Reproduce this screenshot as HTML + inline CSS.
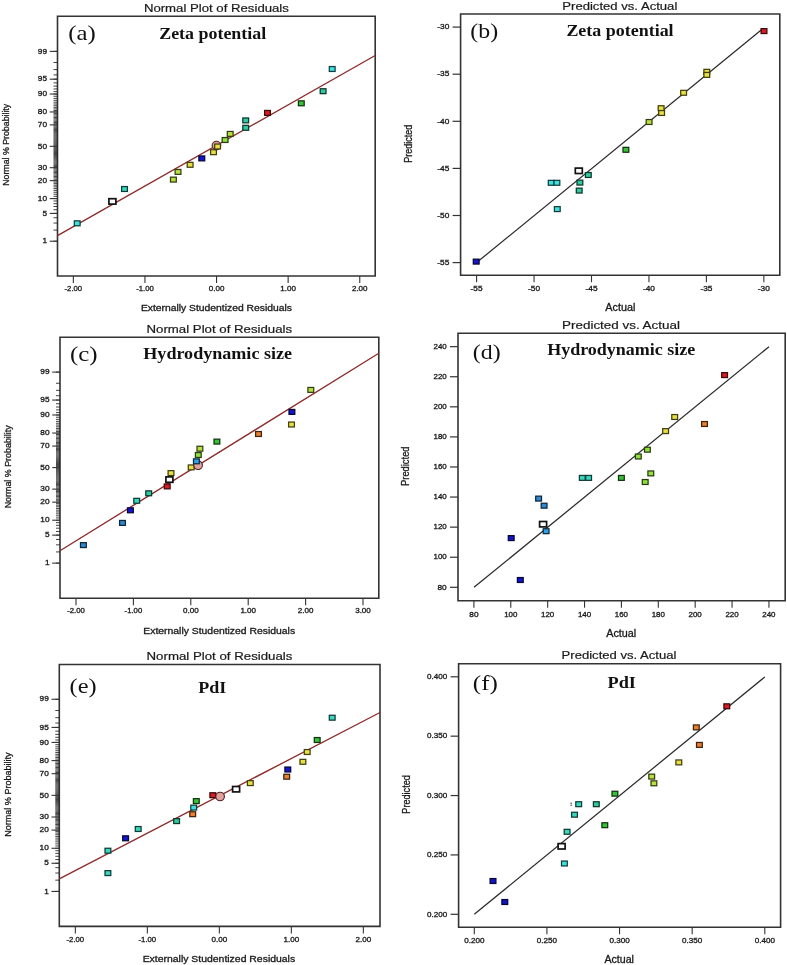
<!DOCTYPE html>
<html><head><meta charset="utf-8"><style>
html,body{margin:0;padding:0;background:#fff;}
body{width:787px;height:965px;overflow:hidden;font-family:"Liberation Sans",sans-serif;}
svg{display:block;will-change:transform;}
</style></head><body>
<svg width="787" height="965" viewBox="0 0 787 965">
<rect width="787" height="965" fill="#fff"/>
<text x="216.40" y="11.90" font-family="Liberation Sans" font-size="11" font-weight="normal" fill="#1a1a1a" text-anchor="middle" stroke="#1a1a1a" stroke-width="0.2" textLength="145" lengthAdjust="spacingAndGlyphs">Normal Plot of Residuals</text>
<path d="M57.50,16.30 H375.20 V276.00 H57.50 Z" fill="none" stroke="#333333" stroke-width="1.6"/>
<text x="216.40" y="311.30" font-family="Liberation Sans" font-size="9" font-weight="normal" fill="#1a1a1a" text-anchor="middle" stroke="#1a1a1a" stroke-width="0.3" textLength="151" lengthAdjust="spacingAndGlyphs">Externally Studentized Residuals</text>
<text x="9.50" y="144.80" font-family="Liberation Sans" font-size="9" font-weight="normal" fill="#1a1a1a" text-anchor="middle" stroke="#1a1a1a" stroke-width="0.3" textLength="82" lengthAdjust="spacingAndGlyphs" transform="rotate(-90 9.50 144.80)">Normal % Probability</text>
<text x="68.20" y="39.70" font-family="Liberation Serif" font-size="22" font-weight="normal" fill="#111" text-anchor="start" textLength="27.5" lengthAdjust="spacingAndGlyphs">(a)</text>
<text x="159.20" y="38.70" font-family="Liberation Serif" font-size="16" font-weight="bold" fill="#111" text-anchor="start" textLength="107" lengthAdjust="spacingAndGlyphs">Zeta potential</text>
<line x1="53.50" y1="241.21" x2="57.50" y2="241.21" stroke="#222" stroke-width="0.85"/>
<line x1="53.50" y1="230.09" x2="57.50" y2="230.09" stroke="#222" stroke-width="0.85"/>
<line x1="53.50" y1="223.04" x2="57.50" y2="223.04" stroke="#222" stroke-width="0.85"/>
<line x1="53.50" y1="217.73" x2="57.50" y2="217.73" stroke="#222" stroke-width="0.85"/>
<line x1="53.50" y1="213.41" x2="57.50" y2="213.41" stroke="#222" stroke-width="0.85"/>
<line x1="53.50" y1="209.73" x2="57.50" y2="209.73" stroke="#222" stroke-width="0.85"/>
<line x1="53.50" y1="206.51" x2="57.50" y2="206.51" stroke="#222" stroke-width="0.85"/>
<line x1="53.50" y1="203.63" x2="57.50" y2="203.63" stroke="#222" stroke-width="0.85"/>
<line x1="53.50" y1="201.00" x2="57.50" y2="201.00" stroke="#222" stroke-width="0.85"/>
<line x1="53.50" y1="198.59" x2="57.50" y2="198.59" stroke="#222" stroke-width="0.85"/>
<line x1="53.50" y1="196.34" x2="57.50" y2="196.34" stroke="#222" stroke-width="0.85"/>
<line x1="53.50" y1="194.24" x2="57.50" y2="194.24" stroke="#222" stroke-width="0.85"/>
<line x1="53.50" y1="192.26" x2="57.50" y2="192.26" stroke="#222" stroke-width="0.85"/>
<line x1="53.50" y1="190.38" x2="57.50" y2="190.38" stroke="#222" stroke-width="0.85"/>
<line x1="53.50" y1="188.59" x2="57.50" y2="188.59" stroke="#222" stroke-width="0.85"/>
<line x1="53.50" y1="186.87" x2="57.50" y2="186.87" stroke="#222" stroke-width="0.85"/>
<line x1="53.50" y1="185.23" x2="57.50" y2="185.23" stroke="#222" stroke-width="0.85"/>
<line x1="53.50" y1="183.65" x2="57.50" y2="183.65" stroke="#222" stroke-width="0.85"/>
<line x1="53.50" y1="182.12" x2="57.50" y2="182.12" stroke="#222" stroke-width="0.85"/>
<line x1="53.50" y1="180.64" x2="57.50" y2="180.64" stroke="#222" stroke-width="0.85"/>
<line x1="53.50" y1="179.20" x2="57.50" y2="179.20" stroke="#222" stroke-width="0.85"/>
<line x1="53.50" y1="177.81" x2="57.50" y2="177.81" stroke="#222" stroke-width="0.85"/>
<line x1="53.50" y1="176.44" x2="57.50" y2="176.44" stroke="#222" stroke-width="0.85"/>
<line x1="53.50" y1="175.12" x2="57.50" y2="175.12" stroke="#222" stroke-width="0.85"/>
<line x1="53.50" y1="173.82" x2="57.50" y2="173.82" stroke="#222" stroke-width="0.85"/>
<line x1="53.50" y1="172.55" x2="57.50" y2="172.55" stroke="#222" stroke-width="0.85"/>
<line x1="53.50" y1="171.30" x2="57.50" y2="171.30" stroke="#222" stroke-width="0.85"/>
<line x1="53.50" y1="170.08" x2="57.50" y2="170.08" stroke="#222" stroke-width="0.85"/>
<line x1="53.50" y1="168.88" x2="57.50" y2="168.88" stroke="#222" stroke-width="0.85"/>
<line x1="53.50" y1="167.70" x2="57.50" y2="167.70" stroke="#222" stroke-width="0.85"/>
<line x1="53.50" y1="166.53" x2="57.50" y2="166.53" stroke="#222" stroke-width="0.85"/>
<line x1="53.50" y1="165.38" x2="57.50" y2="165.38" stroke="#222" stroke-width="0.85"/>
<line x1="53.50" y1="164.25" x2="57.50" y2="164.25" stroke="#222" stroke-width="0.85"/>
<line x1="53.50" y1="163.13" x2="57.50" y2="163.13" stroke="#222" stroke-width="0.85"/>
<line x1="53.50" y1="162.02" x2="57.50" y2="162.02" stroke="#222" stroke-width="0.85"/>
<line x1="53.50" y1="160.93" x2="57.50" y2="160.93" stroke="#222" stroke-width="0.85"/>
<line x1="53.50" y1="159.84" x2="57.50" y2="159.84" stroke="#222" stroke-width="0.85"/>
<line x1="53.50" y1="158.76" x2="57.50" y2="158.76" stroke="#222" stroke-width="0.85"/>
<line x1="53.50" y1="157.70" x2="57.50" y2="157.70" stroke="#222" stroke-width="0.85"/>
<line x1="53.50" y1="156.64" x2="57.50" y2="156.64" stroke="#222" stroke-width="0.85"/>
<line x1="53.50" y1="155.58" x2="57.50" y2="155.58" stroke="#222" stroke-width="0.85"/>
<line x1="53.50" y1="154.54" x2="57.50" y2="154.54" stroke="#222" stroke-width="0.85"/>
<line x1="53.50" y1="153.50" x2="57.50" y2="153.50" stroke="#222" stroke-width="0.85"/>
<line x1="53.50" y1="152.46" x2="57.50" y2="152.46" stroke="#222" stroke-width="0.85"/>
<line x1="53.50" y1="151.43" x2="57.50" y2="151.43" stroke="#222" stroke-width="0.85"/>
<line x1="53.50" y1="150.40" x2="57.50" y2="150.40" stroke="#222" stroke-width="0.85"/>
<line x1="53.50" y1="149.37" x2="57.50" y2="149.37" stroke="#222" stroke-width="0.85"/>
<line x1="53.50" y1="148.35" x2="57.50" y2="148.35" stroke="#222" stroke-width="0.85"/>
<line x1="53.50" y1="147.32" x2="57.50" y2="147.32" stroke="#222" stroke-width="0.85"/>
<line x1="53.50" y1="146.30" x2="57.50" y2="146.30" stroke="#222" stroke-width="0.85"/>
<line x1="53.50" y1="145.28" x2="57.50" y2="145.28" stroke="#222" stroke-width="0.85"/>
<line x1="53.50" y1="144.25" x2="57.50" y2="144.25" stroke="#222" stroke-width="0.85"/>
<line x1="53.50" y1="143.23" x2="57.50" y2="143.23" stroke="#222" stroke-width="0.85"/>
<line x1="53.50" y1="142.20" x2="57.50" y2="142.20" stroke="#222" stroke-width="0.85"/>
<line x1="53.50" y1="141.17" x2="57.50" y2="141.17" stroke="#222" stroke-width="0.85"/>
<line x1="53.50" y1="140.14" x2="57.50" y2="140.14" stroke="#222" stroke-width="0.85"/>
<line x1="53.50" y1="139.10" x2="57.50" y2="139.10" stroke="#222" stroke-width="0.85"/>
<line x1="53.50" y1="138.06" x2="57.50" y2="138.06" stroke="#222" stroke-width="0.85"/>
<line x1="53.50" y1="137.02" x2="57.50" y2="137.02" stroke="#222" stroke-width="0.85"/>
<line x1="53.50" y1="135.96" x2="57.50" y2="135.96" stroke="#222" stroke-width="0.85"/>
<line x1="53.50" y1="134.90" x2="57.50" y2="134.90" stroke="#222" stroke-width="0.85"/>
<line x1="53.50" y1="133.84" x2="57.50" y2="133.84" stroke="#222" stroke-width="0.85"/>
<line x1="53.50" y1="132.76" x2="57.50" y2="132.76" stroke="#222" stroke-width="0.85"/>
<line x1="53.50" y1="131.67" x2="57.50" y2="131.67" stroke="#222" stroke-width="0.85"/>
<line x1="53.50" y1="130.58" x2="57.50" y2="130.58" stroke="#222" stroke-width="0.85"/>
<line x1="53.50" y1="129.47" x2="57.50" y2="129.47" stroke="#222" stroke-width="0.85"/>
<line x1="53.50" y1="128.35" x2="57.50" y2="128.35" stroke="#222" stroke-width="0.85"/>
<line x1="53.50" y1="127.22" x2="57.50" y2="127.22" stroke="#222" stroke-width="0.85"/>
<line x1="53.50" y1="126.07" x2="57.50" y2="126.07" stroke="#222" stroke-width="0.85"/>
<line x1="53.50" y1="124.90" x2="57.50" y2="124.90" stroke="#222" stroke-width="0.85"/>
<line x1="53.50" y1="123.72" x2="57.50" y2="123.72" stroke="#222" stroke-width="0.85"/>
<line x1="53.50" y1="122.52" x2="57.50" y2="122.52" stroke="#222" stroke-width="0.85"/>
<line x1="53.50" y1="121.30" x2="57.50" y2="121.30" stroke="#222" stroke-width="0.85"/>
<line x1="53.50" y1="120.05" x2="57.50" y2="120.05" stroke="#222" stroke-width="0.85"/>
<line x1="53.50" y1="118.78" x2="57.50" y2="118.78" stroke="#222" stroke-width="0.85"/>
<line x1="53.50" y1="117.48" x2="57.50" y2="117.48" stroke="#222" stroke-width="0.85"/>
<line x1="53.50" y1="116.16" x2="57.50" y2="116.16" stroke="#222" stroke-width="0.85"/>
<line x1="53.50" y1="114.79" x2="57.50" y2="114.79" stroke="#222" stroke-width="0.85"/>
<line x1="53.50" y1="113.40" x2="57.50" y2="113.40" stroke="#222" stroke-width="0.85"/>
<line x1="53.50" y1="111.96" x2="57.50" y2="111.96" stroke="#222" stroke-width="0.85"/>
<line x1="53.50" y1="110.48" x2="57.50" y2="110.48" stroke="#222" stroke-width="0.85"/>
<line x1="53.50" y1="108.95" x2="57.50" y2="108.95" stroke="#222" stroke-width="0.85"/>
<line x1="53.50" y1="107.37" x2="57.50" y2="107.37" stroke="#222" stroke-width="0.85"/>
<line x1="53.50" y1="105.73" x2="57.50" y2="105.73" stroke="#222" stroke-width="0.85"/>
<line x1="53.50" y1="104.01" x2="57.50" y2="104.01" stroke="#222" stroke-width="0.85"/>
<line x1="53.50" y1="102.22" x2="57.50" y2="102.22" stroke="#222" stroke-width="0.85"/>
<line x1="53.50" y1="100.34" x2="57.50" y2="100.34" stroke="#222" stroke-width="0.85"/>
<line x1="53.50" y1="98.36" x2="57.50" y2="98.36" stroke="#222" stroke-width="0.85"/>
<line x1="53.50" y1="96.26" x2="57.50" y2="96.26" stroke="#222" stroke-width="0.85"/>
<line x1="53.50" y1="94.01" x2="57.50" y2="94.01" stroke="#222" stroke-width="0.85"/>
<line x1="53.50" y1="91.60" x2="57.50" y2="91.60" stroke="#222" stroke-width="0.85"/>
<line x1="53.50" y1="88.97" x2="57.50" y2="88.97" stroke="#222" stroke-width="0.85"/>
<line x1="53.50" y1="86.09" x2="57.50" y2="86.09" stroke="#222" stroke-width="0.85"/>
<line x1="53.50" y1="82.87" x2="57.50" y2="82.87" stroke="#222" stroke-width="0.85"/>
<line x1="53.50" y1="79.19" x2="57.50" y2="79.19" stroke="#222" stroke-width="0.85"/>
<line x1="53.50" y1="74.87" x2="57.50" y2="74.87" stroke="#222" stroke-width="0.85"/>
<line x1="53.50" y1="69.56" x2="57.50" y2="69.56" stroke="#222" stroke-width="0.85"/>
<line x1="53.50" y1="62.51" x2="57.50" y2="62.51" stroke="#222" stroke-width="0.85"/>
<line x1="53.50" y1="51.39" x2="57.50" y2="51.39" stroke="#222" stroke-width="0.85"/>
<line x1="49.70" y1="51.39" x2="57.50" y2="51.39" stroke="#333333" stroke-width="1.1"/>
<text x="47.00" y="53.59" font-family="Liberation Sans" font-size="7" font-weight="normal" fill="#1a1a1a" text-anchor="end" stroke="#1a1a1a" stroke-width="0.3" textLength="9.2" lengthAdjust="spacingAndGlyphs">99</text>
<line x1="49.70" y1="79.19" x2="57.50" y2="79.19" stroke="#333333" stroke-width="1.1"/>
<text x="47.00" y="81.39" font-family="Liberation Sans" font-size="7" font-weight="normal" fill="#1a1a1a" text-anchor="end" stroke="#1a1a1a" stroke-width="0.3" textLength="9.2" lengthAdjust="spacingAndGlyphs">95</text>
<line x1="49.70" y1="94.01" x2="57.50" y2="94.01" stroke="#333333" stroke-width="1.1"/>
<text x="47.00" y="96.21" font-family="Liberation Sans" font-size="7" font-weight="normal" fill="#1a1a1a" text-anchor="end" stroke="#1a1a1a" stroke-width="0.3" textLength="9.2" lengthAdjust="spacingAndGlyphs">90</text>
<line x1="49.70" y1="111.96" x2="57.50" y2="111.96" stroke="#333333" stroke-width="1.1"/>
<text x="47.00" y="114.16" font-family="Liberation Sans" font-size="7" font-weight="normal" fill="#1a1a1a" text-anchor="end" stroke="#1a1a1a" stroke-width="0.3" textLength="9.2" lengthAdjust="spacingAndGlyphs">80</text>
<line x1="49.70" y1="124.90" x2="57.50" y2="124.90" stroke="#333333" stroke-width="1.1"/>
<text x="47.00" y="127.10" font-family="Liberation Sans" font-size="7" font-weight="normal" fill="#1a1a1a" text-anchor="end" stroke="#1a1a1a" stroke-width="0.3" textLength="9.2" lengthAdjust="spacingAndGlyphs">70</text>
<line x1="49.70" y1="146.30" x2="57.50" y2="146.30" stroke="#333333" stroke-width="1.1"/>
<text x="47.00" y="148.50" font-family="Liberation Sans" font-size="7" font-weight="normal" fill="#1a1a1a" text-anchor="end" stroke="#1a1a1a" stroke-width="0.3" textLength="9.2" lengthAdjust="spacingAndGlyphs">50</text>
<line x1="49.70" y1="167.70" x2="57.50" y2="167.70" stroke="#333333" stroke-width="1.1"/>
<text x="47.00" y="169.90" font-family="Liberation Sans" font-size="7" font-weight="normal" fill="#1a1a1a" text-anchor="end" stroke="#1a1a1a" stroke-width="0.3" textLength="9.2" lengthAdjust="spacingAndGlyphs">30</text>
<line x1="49.70" y1="180.64" x2="57.50" y2="180.64" stroke="#333333" stroke-width="1.1"/>
<text x="47.00" y="182.84" font-family="Liberation Sans" font-size="7" font-weight="normal" fill="#1a1a1a" text-anchor="end" stroke="#1a1a1a" stroke-width="0.3" textLength="9.2" lengthAdjust="spacingAndGlyphs">20</text>
<line x1="49.70" y1="198.59" x2="57.50" y2="198.59" stroke="#333333" stroke-width="1.1"/>
<text x="47.00" y="200.79" font-family="Liberation Sans" font-size="7" font-weight="normal" fill="#1a1a1a" text-anchor="end" stroke="#1a1a1a" stroke-width="0.3" textLength="9.2" lengthAdjust="spacingAndGlyphs">10</text>
<line x1="49.70" y1="213.41" x2="57.50" y2="213.41" stroke="#333333" stroke-width="1.1"/>
<text x="47.00" y="215.61" font-family="Liberation Sans" font-size="7" font-weight="normal" fill="#1a1a1a" text-anchor="end" stroke="#1a1a1a" stroke-width="0.3" textLength="4.6" lengthAdjust="spacingAndGlyphs">5</text>
<line x1="49.70" y1="241.21" x2="57.50" y2="241.21" stroke="#333333" stroke-width="1.1"/>
<text x="47.00" y="243.41" font-family="Liberation Sans" font-size="7" font-weight="normal" fill="#1a1a1a" text-anchor="end" stroke="#1a1a1a" stroke-width="0.3" textLength="4.6" lengthAdjust="spacingAndGlyphs">1</text>
<line x1="73.35" y1="276.00" x2="73.35" y2="283.00" stroke="#333333" stroke-width="1.1"/>
<text x="73.35" y="291.20" font-family="Liberation Sans" font-size="7" font-weight="normal" fill="#1a1a1a" text-anchor="middle" stroke="#1a1a1a" stroke-width="0.3" textLength="17.6" lengthAdjust="spacingAndGlyphs">-2.00</text>
<line x1="144.95" y1="276.00" x2="144.95" y2="283.00" stroke="#333333" stroke-width="1.1"/>
<text x="144.95" y="291.20" font-family="Liberation Sans" font-size="7" font-weight="normal" fill="#1a1a1a" text-anchor="middle" stroke="#1a1a1a" stroke-width="0.3" textLength="17.6" lengthAdjust="spacingAndGlyphs">-1.00</text>
<line x1="216.55" y1="276.00" x2="216.55" y2="283.00" stroke="#333333" stroke-width="1.1"/>
<text x="216.55" y="291.20" font-family="Liberation Sans" font-size="7" font-weight="normal" fill="#1a1a1a" text-anchor="middle" stroke="#1a1a1a" stroke-width="0.3" textLength="15.6" lengthAdjust="spacingAndGlyphs">0.00</text>
<line x1="288.15" y1="276.00" x2="288.15" y2="283.00" stroke="#333333" stroke-width="1.1"/>
<text x="288.15" y="291.20" font-family="Liberation Sans" font-size="7" font-weight="normal" fill="#1a1a1a" text-anchor="middle" stroke="#1a1a1a" stroke-width="0.3" textLength="15.6" lengthAdjust="spacingAndGlyphs">1.00</text>
<line x1="359.75" y1="276.00" x2="359.75" y2="283.00" stroke="#333333" stroke-width="1.1"/>
<text x="359.75" y="291.20" font-family="Liberation Sans" font-size="7" font-weight="normal" fill="#1a1a1a" text-anchor="middle" stroke="#1a1a1a" stroke-width="0.3" textLength="15.6" lengthAdjust="spacingAndGlyphs">2.00</text>
<line x1="57.50" y1="235.60" x2="375.20" y2="55.50" stroke="#8c2c2c" stroke-width="1.35"/>
<rect x="74.30" y="220.85" width="5.8" height="4.9" fill="#3ee0e0" stroke="#113e3e" stroke-width="1.25"/>
<rect x="121.60" y="186.55" width="5.8" height="4.9" fill="#38d8c0" stroke="#0f3c35" stroke-width="1.25"/>
<rect x="170.50" y="177.15" width="5.8" height="4.9" fill="#b8e040" stroke="#333e11" stroke-width="1.25"/>
<rect x="175.10" y="169.45" width="5.8" height="4.9" fill="#b8e040" stroke="#333e11" stroke-width="1.25"/>
<rect x="187.20" y="162.35" width="5.8" height="4.9" fill="#e8e040" stroke="#403e11" stroke-width="1.25"/>
<rect x="198.90" y="155.95" width="5.8" height="4.9" fill="#1414c8" stroke="#050538" stroke-width="1.25"/>
<rect x="210.60" y="149.75" width="5.8" height="4.9" fill="#e8e040" stroke="#403e11" stroke-width="1.25"/>
<rect x="222.20" y="137.55" width="5.8" height="4.9" fill="#90e040" stroke="#283e11" stroke-width="1.25"/>
<rect x="227.30" y="131.45" width="5.8" height="4.9" fill="#b8e040" stroke="#333e11" stroke-width="1.25"/>
<rect x="242.80" y="117.95" width="5.8" height="4.9" fill="#30c8a0" stroke="#0d382c" stroke-width="1.25"/>
<rect x="242.80" y="125.35" width="5.8" height="4.9" fill="#30c8a0" stroke="#0d382c" stroke-width="1.25"/>
<rect x="264.60" y="110.45" width="5.8" height="4.9" fill="#d81c24" stroke="#3c070a" stroke-width="1.25"/>
<rect x="298.40" y="100.85" width="5.8" height="4.9" fill="#38c038" stroke="#0f350f" stroke-width="1.25"/>
<rect x="320.20" y="88.75" width="5.8" height="4.9" fill="#30c8a0" stroke="#0d382c" stroke-width="1.25"/>
<rect x="329.30" y="66.55" width="5.8" height="4.9" fill="#3ee0e0" stroke="#113e3e" stroke-width="1.25"/>
<rect x="108.90" y="198.70" width="7" height="5.4" fill="#fff" stroke="#111" stroke-width="1.7"/>
<circle cx="216.40" cy="145.60" r="4.3" fill="#e0a0a0" stroke="#4a2020" stroke-width="1.1"/>
<rect x="214.70" y="144.05" width="5.8" height="4.9" fill="#e8e040" stroke="#403e11" stroke-width="1.25"/>
<text x="619.80" y="9.60" font-family="Liberation Sans" font-size="11" font-weight="normal" fill="#1a1a1a" text-anchor="middle" stroke="#1a1a1a" stroke-width="0.2" textLength="115" lengthAdjust="spacingAndGlyphs">Predicted vs. Actual</text>
<path d="M460.60,14.00 H779.80 V275.30 H460.60 Z" fill="none" stroke="#333333" stroke-width="1.6"/>
<text x="620.30" y="311.00" font-family="Liberation Sans" font-size="10" font-weight="normal" fill="#1a1a1a" text-anchor="middle" stroke="#1a1a1a" stroke-width="0.3" textLength="30" lengthAdjust="spacingAndGlyphs">Actual</text>
<text x="412.30" y="143.65" font-family="Liberation Sans" font-size="10" font-weight="normal" fill="#1a1a1a" text-anchor="middle" stroke="#1a1a1a" stroke-width="0.3" textLength="38" lengthAdjust="spacingAndGlyphs" transform="rotate(-90 412.30 143.65)">Predicted</text>
<text x="470.30" y="37.80" font-family="Liberation Serif" font-size="22" font-weight="normal" fill="#111" text-anchor="start" textLength="27.8" lengthAdjust="spacingAndGlyphs">(b)</text>
<text x="566.40" y="36.20" font-family="Liberation Serif" font-size="16" font-weight="bold" fill="#111" text-anchor="start" textLength="107.2" lengthAdjust="spacingAndGlyphs">Zeta potential</text>
<line x1="452.60" y1="27.10" x2="460.60" y2="27.10" stroke="#333333" stroke-width="1.2"/>
<text x="449.30" y="29.30" font-family="Liberation Sans" font-size="7" font-weight="normal" fill="#1a1a1a" text-anchor="end" stroke="#1a1a1a" stroke-width="0.3" textLength="12.0" lengthAdjust="spacingAndGlyphs">-30</text>
<line x1="452.60" y1="74.20" x2="460.60" y2="74.20" stroke="#333333" stroke-width="1.2"/>
<text x="449.30" y="76.40" font-family="Liberation Sans" font-size="7" font-weight="normal" fill="#1a1a1a" text-anchor="end" stroke="#1a1a1a" stroke-width="0.3" textLength="12.0" lengthAdjust="spacingAndGlyphs">-35</text>
<line x1="452.60" y1="121.30" x2="460.60" y2="121.30" stroke="#333333" stroke-width="1.2"/>
<text x="449.30" y="123.50" font-family="Liberation Sans" font-size="7" font-weight="normal" fill="#1a1a1a" text-anchor="end" stroke="#1a1a1a" stroke-width="0.3" textLength="12.0" lengthAdjust="spacingAndGlyphs">-40</text>
<line x1="452.60" y1="168.40" x2="460.60" y2="168.40" stroke="#333333" stroke-width="1.2"/>
<text x="449.30" y="170.60" font-family="Liberation Sans" font-size="7" font-weight="normal" fill="#1a1a1a" text-anchor="end" stroke="#1a1a1a" stroke-width="0.3" textLength="12.0" lengthAdjust="spacingAndGlyphs">-45</text>
<line x1="452.60" y1="215.50" x2="460.60" y2="215.50" stroke="#333333" stroke-width="1.2"/>
<text x="449.30" y="217.70" font-family="Liberation Sans" font-size="7" font-weight="normal" fill="#1a1a1a" text-anchor="end" stroke="#1a1a1a" stroke-width="0.3" textLength="12.0" lengthAdjust="spacingAndGlyphs">-50</text>
<line x1="452.60" y1="262.60" x2="460.60" y2="262.60" stroke="#333333" stroke-width="1.2"/>
<text x="449.30" y="264.80" font-family="Liberation Sans" font-size="7" font-weight="normal" fill="#1a1a1a" text-anchor="end" stroke="#1a1a1a" stroke-width="0.3" textLength="12.0" lengthAdjust="spacingAndGlyphs">-55</text>
<line x1="476.60" y1="275.30" x2="476.60" y2="282.30" stroke="#333333" stroke-width="1.1"/>
<text x="476.60" y="291.00" font-family="Liberation Sans" font-size="7" font-weight="normal" fill="#1a1a1a" text-anchor="middle" stroke="#1a1a1a" stroke-width="0.3" textLength="12.0" lengthAdjust="spacingAndGlyphs">-55</text>
<line x1="534.05" y1="275.30" x2="534.05" y2="282.30" stroke="#333333" stroke-width="1.1"/>
<text x="534.05" y="291.00" font-family="Liberation Sans" font-size="7" font-weight="normal" fill="#1a1a1a" text-anchor="middle" stroke="#1a1a1a" stroke-width="0.3" textLength="12.0" lengthAdjust="spacingAndGlyphs">-50</text>
<line x1="591.50" y1="275.30" x2="591.50" y2="282.30" stroke="#333333" stroke-width="1.1"/>
<text x="591.50" y="291.00" font-family="Liberation Sans" font-size="7" font-weight="normal" fill="#1a1a1a" text-anchor="middle" stroke="#1a1a1a" stroke-width="0.3" textLength="12.0" lengthAdjust="spacingAndGlyphs">-45</text>
<line x1="648.95" y1="275.30" x2="648.95" y2="282.30" stroke="#333333" stroke-width="1.1"/>
<text x="648.95" y="291.00" font-family="Liberation Sans" font-size="7" font-weight="normal" fill="#1a1a1a" text-anchor="middle" stroke="#1a1a1a" stroke-width="0.3" textLength="12.0" lengthAdjust="spacingAndGlyphs">-40</text>
<line x1="706.40" y1="275.30" x2="706.40" y2="282.30" stroke="#333333" stroke-width="1.1"/>
<text x="706.40" y="291.00" font-family="Liberation Sans" font-size="7" font-weight="normal" fill="#1a1a1a" text-anchor="middle" stroke="#1a1a1a" stroke-width="0.3" textLength="12.0" lengthAdjust="spacingAndGlyphs">-35</text>
<line x1="763.85" y1="275.30" x2="763.85" y2="282.30" stroke="#333333" stroke-width="1.1"/>
<text x="763.85" y="291.00" font-family="Liberation Sans" font-size="7" font-weight="normal" fill="#1a1a1a" text-anchor="middle" stroke="#1a1a1a" stroke-width="0.3" textLength="12.0" lengthAdjust="spacingAndGlyphs">-30</text>
<line x1="476.60" y1="262.60" x2="761.50" y2="29.80" stroke="#2a2a2a" stroke-width="1.25"/>
<rect x="473.30" y="259.15" width="5.8" height="4.9" fill="#1414c8" stroke="#050538" stroke-width="1.25"/>
<rect x="548.30" y="180.35" width="5.8" height="4.9" fill="#3ee0e0" stroke="#113e3e" stroke-width="1.25"/>
<rect x="554.00" y="180.35" width="5.8" height="4.9" fill="#3ee0e0" stroke="#113e3e" stroke-width="1.25"/>
<rect x="585.40" y="172.55" width="5.8" height="4.9" fill="#30c8a0" stroke="#0d382c" stroke-width="1.25"/>
<rect x="577.00" y="180.15" width="5.8" height="4.9" fill="#30c8a0" stroke="#0d382c" stroke-width="1.25"/>
<rect x="576.30" y="188.15" width="5.8" height="4.9" fill="#30c8a0" stroke="#0d382c" stroke-width="1.25"/>
<rect x="554.40" y="206.65" width="5.8" height="4.9" fill="#3ee0e0" stroke="#113e3e" stroke-width="1.25"/>
<rect x="623.00" y="147.35" width="5.8" height="4.9" fill="#38c038" stroke="#0f350f" stroke-width="1.25"/>
<rect x="646.20" y="119.55" width="5.8" height="4.9" fill="#b8e040" stroke="#333e11" stroke-width="1.25"/>
<rect x="658.20" y="105.75" width="5.8" height="4.9" fill="#e8e040" stroke="#403e11" stroke-width="1.25"/>
<rect x="658.70" y="110.55" width="5.8" height="4.9" fill="#e8e040" stroke="#403e11" stroke-width="1.25"/>
<rect x="680.70" y="90.35" width="5.8" height="4.9" fill="#e8e040" stroke="#403e11" stroke-width="1.25"/>
<rect x="703.90" y="69.35" width="5.8" height="4.9" fill="#e8e040" stroke="#403e11" stroke-width="1.25"/>
<rect x="703.90" y="72.45" width="5.8" height="4.9" fill="#e8e040" stroke="#403e11" stroke-width="1.25"/>
<rect x="761.10" y="28.65" width="5.8" height="4.9" fill="#d81c24" stroke="#3c070a" stroke-width="1.25"/>
<rect x="575.30" y="168.10" width="7" height="5.4" fill="#fff" stroke="#111" stroke-width="1.7"/>
<text x="219.30" y="332.80" font-family="Liberation Sans" font-size="11" font-weight="normal" fill="#1a1a1a" text-anchor="middle" stroke="#1a1a1a" stroke-width="0.2" textLength="145.5" lengthAdjust="spacingAndGlyphs">Normal Plot of Residuals</text>
<path d="M60.00,337.20 H378.80 V598.20 H60.00 Z" fill="none" stroke="#333333" stroke-width="1.6"/>
<text x="219.20" y="633.90" font-family="Liberation Sans" font-size="9" font-weight="normal" fill="#1a1a1a" text-anchor="middle" stroke="#1a1a1a" stroke-width="0.3" textLength="151.8" lengthAdjust="spacingAndGlyphs">Externally Studentized Residuals</text>
<text x="11.50" y="466.80" font-family="Liberation Sans" font-size="9" font-weight="normal" fill="#1a1a1a" text-anchor="middle" stroke="#1a1a1a" stroke-width="0.3" textLength="83" lengthAdjust="spacingAndGlyphs" transform="rotate(-90 11.50 466.80)">Normal % Probability</text>
<text x="70.00" y="361.00" font-family="Liberation Serif" font-size="22" font-weight="normal" fill="#111" text-anchor="start" textLength="27.6" lengthAdjust="spacingAndGlyphs">(c)</text>
<text x="143.30" y="358.90" font-family="Liberation Serif" font-size="16" font-weight="bold" fill="#111" text-anchor="start" textLength="148.7" lengthAdjust="spacingAndGlyphs">Hydrodynamic size</text>
<line x1="56.00" y1="563.12" x2="60.00" y2="563.12" stroke="#222" stroke-width="0.85"/>
<line x1="56.00" y1="551.93" x2="60.00" y2="551.93" stroke="#222" stroke-width="0.85"/>
<line x1="56.00" y1="544.83" x2="60.00" y2="544.83" stroke="#222" stroke-width="0.85"/>
<line x1="56.00" y1="539.48" x2="60.00" y2="539.48" stroke="#222" stroke-width="0.85"/>
<line x1="56.00" y1="535.14" x2="60.00" y2="535.14" stroke="#222" stroke-width="0.85"/>
<line x1="56.00" y1="531.44" x2="60.00" y2="531.44" stroke="#222" stroke-width="0.85"/>
<line x1="56.00" y1="528.20" x2="60.00" y2="528.20" stroke="#222" stroke-width="0.85"/>
<line x1="56.00" y1="525.29" x2="60.00" y2="525.29" stroke="#222" stroke-width="0.85"/>
<line x1="56.00" y1="522.65" x2="60.00" y2="522.65" stroke="#222" stroke-width="0.85"/>
<line x1="56.00" y1="520.22" x2="60.00" y2="520.22" stroke="#222" stroke-width="0.85"/>
<line x1="56.00" y1="517.96" x2="60.00" y2="517.96" stroke="#222" stroke-width="0.85"/>
<line x1="56.00" y1="515.84" x2="60.00" y2="515.84" stroke="#222" stroke-width="0.85"/>
<line x1="56.00" y1="513.85" x2="60.00" y2="513.85" stroke="#222" stroke-width="0.85"/>
<line x1="56.00" y1="511.96" x2="60.00" y2="511.96" stroke="#222" stroke-width="0.85"/>
<line x1="56.00" y1="510.16" x2="60.00" y2="510.16" stroke="#222" stroke-width="0.85"/>
<line x1="56.00" y1="508.43" x2="60.00" y2="508.43" stroke="#222" stroke-width="0.85"/>
<line x1="56.00" y1="506.78" x2="60.00" y2="506.78" stroke="#222" stroke-width="0.85"/>
<line x1="56.00" y1="505.18" x2="60.00" y2="505.18" stroke="#222" stroke-width="0.85"/>
<line x1="56.00" y1="503.65" x2="60.00" y2="503.65" stroke="#222" stroke-width="0.85"/>
<line x1="56.00" y1="502.16" x2="60.00" y2="502.16" stroke="#222" stroke-width="0.85"/>
<line x1="56.00" y1="500.71" x2="60.00" y2="500.71" stroke="#222" stroke-width="0.85"/>
<line x1="56.00" y1="499.31" x2="60.00" y2="499.31" stroke="#222" stroke-width="0.85"/>
<line x1="56.00" y1="497.94" x2="60.00" y2="497.94" stroke="#222" stroke-width="0.85"/>
<line x1="56.00" y1="496.60" x2="60.00" y2="496.60" stroke="#222" stroke-width="0.85"/>
<line x1="56.00" y1="495.29" x2="60.00" y2="495.29" stroke="#222" stroke-width="0.85"/>
<line x1="56.00" y1="494.02" x2="60.00" y2="494.02" stroke="#222" stroke-width="0.85"/>
<line x1="56.00" y1="492.76" x2="60.00" y2="492.76" stroke="#222" stroke-width="0.85"/>
<line x1="56.00" y1="491.53" x2="60.00" y2="491.53" stroke="#222" stroke-width="0.85"/>
<line x1="56.00" y1="490.32" x2="60.00" y2="490.32" stroke="#222" stroke-width="0.85"/>
<line x1="56.00" y1="489.13" x2="60.00" y2="489.13" stroke="#222" stroke-width="0.85"/>
<line x1="56.00" y1="487.96" x2="60.00" y2="487.96" stroke="#222" stroke-width="0.85"/>
<line x1="56.00" y1="486.80" x2="60.00" y2="486.80" stroke="#222" stroke-width="0.85"/>
<line x1="56.00" y1="485.66" x2="60.00" y2="485.66" stroke="#222" stroke-width="0.85"/>
<line x1="56.00" y1="484.54" x2="60.00" y2="484.54" stroke="#222" stroke-width="0.85"/>
<line x1="56.00" y1="483.42" x2="60.00" y2="483.42" stroke="#222" stroke-width="0.85"/>
<line x1="56.00" y1="482.32" x2="60.00" y2="482.32" stroke="#222" stroke-width="0.85"/>
<line x1="56.00" y1="481.23" x2="60.00" y2="481.23" stroke="#222" stroke-width="0.85"/>
<line x1="56.00" y1="480.14" x2="60.00" y2="480.14" stroke="#222" stroke-width="0.85"/>
<line x1="56.00" y1="479.07" x2="60.00" y2="479.07" stroke="#222" stroke-width="0.85"/>
<line x1="56.00" y1="478.00" x2="60.00" y2="478.00" stroke="#222" stroke-width="0.85"/>
<line x1="56.00" y1="476.94" x2="60.00" y2="476.94" stroke="#222" stroke-width="0.85"/>
<line x1="56.00" y1="475.89" x2="60.00" y2="475.89" stroke="#222" stroke-width="0.85"/>
<line x1="56.00" y1="474.84" x2="60.00" y2="474.84" stroke="#222" stroke-width="0.85"/>
<line x1="56.00" y1="473.80" x2="60.00" y2="473.80" stroke="#222" stroke-width="0.85"/>
<line x1="56.00" y1="472.76" x2="60.00" y2="472.76" stroke="#222" stroke-width="0.85"/>
<line x1="56.00" y1="471.72" x2="60.00" y2="471.72" stroke="#222" stroke-width="0.85"/>
<line x1="56.00" y1="470.69" x2="60.00" y2="470.69" stroke="#222" stroke-width="0.85"/>
<line x1="56.00" y1="469.66" x2="60.00" y2="469.66" stroke="#222" stroke-width="0.85"/>
<line x1="56.00" y1="468.63" x2="60.00" y2="468.63" stroke="#222" stroke-width="0.85"/>
<line x1="56.00" y1="467.60" x2="60.00" y2="467.60" stroke="#222" stroke-width="0.85"/>
<line x1="56.00" y1="466.57" x2="60.00" y2="466.57" stroke="#222" stroke-width="0.85"/>
<line x1="56.00" y1="465.54" x2="60.00" y2="465.54" stroke="#222" stroke-width="0.85"/>
<line x1="56.00" y1="464.51" x2="60.00" y2="464.51" stroke="#222" stroke-width="0.85"/>
<line x1="56.00" y1="463.48" x2="60.00" y2="463.48" stroke="#222" stroke-width="0.85"/>
<line x1="56.00" y1="462.44" x2="60.00" y2="462.44" stroke="#222" stroke-width="0.85"/>
<line x1="56.00" y1="461.40" x2="60.00" y2="461.40" stroke="#222" stroke-width="0.85"/>
<line x1="56.00" y1="460.36" x2="60.00" y2="460.36" stroke="#222" stroke-width="0.85"/>
<line x1="56.00" y1="459.31" x2="60.00" y2="459.31" stroke="#222" stroke-width="0.85"/>
<line x1="56.00" y1="458.26" x2="60.00" y2="458.26" stroke="#222" stroke-width="0.85"/>
<line x1="56.00" y1="457.20" x2="60.00" y2="457.20" stroke="#222" stroke-width="0.85"/>
<line x1="56.00" y1="456.13" x2="60.00" y2="456.13" stroke="#222" stroke-width="0.85"/>
<line x1="56.00" y1="455.06" x2="60.00" y2="455.06" stroke="#222" stroke-width="0.85"/>
<line x1="56.00" y1="453.97" x2="60.00" y2="453.97" stroke="#222" stroke-width="0.85"/>
<line x1="56.00" y1="452.88" x2="60.00" y2="452.88" stroke="#222" stroke-width="0.85"/>
<line x1="56.00" y1="451.78" x2="60.00" y2="451.78" stroke="#222" stroke-width="0.85"/>
<line x1="56.00" y1="450.66" x2="60.00" y2="450.66" stroke="#222" stroke-width="0.85"/>
<line x1="56.00" y1="449.54" x2="60.00" y2="449.54" stroke="#222" stroke-width="0.85"/>
<line x1="56.00" y1="448.40" x2="60.00" y2="448.40" stroke="#222" stroke-width="0.85"/>
<line x1="56.00" y1="447.24" x2="60.00" y2="447.24" stroke="#222" stroke-width="0.85"/>
<line x1="56.00" y1="446.07" x2="60.00" y2="446.07" stroke="#222" stroke-width="0.85"/>
<line x1="56.00" y1="444.88" x2="60.00" y2="444.88" stroke="#222" stroke-width="0.85"/>
<line x1="56.00" y1="443.67" x2="60.00" y2="443.67" stroke="#222" stroke-width="0.85"/>
<line x1="56.00" y1="442.44" x2="60.00" y2="442.44" stroke="#222" stroke-width="0.85"/>
<line x1="56.00" y1="441.18" x2="60.00" y2="441.18" stroke="#222" stroke-width="0.85"/>
<line x1="56.00" y1="439.91" x2="60.00" y2="439.91" stroke="#222" stroke-width="0.85"/>
<line x1="56.00" y1="438.60" x2="60.00" y2="438.60" stroke="#222" stroke-width="0.85"/>
<line x1="56.00" y1="437.26" x2="60.00" y2="437.26" stroke="#222" stroke-width="0.85"/>
<line x1="56.00" y1="435.89" x2="60.00" y2="435.89" stroke="#222" stroke-width="0.85"/>
<line x1="56.00" y1="434.49" x2="60.00" y2="434.49" stroke="#222" stroke-width="0.85"/>
<line x1="56.00" y1="433.04" x2="60.00" y2="433.04" stroke="#222" stroke-width="0.85"/>
<line x1="56.00" y1="431.55" x2="60.00" y2="431.55" stroke="#222" stroke-width="0.85"/>
<line x1="56.00" y1="430.02" x2="60.00" y2="430.02" stroke="#222" stroke-width="0.85"/>
<line x1="56.00" y1="428.42" x2="60.00" y2="428.42" stroke="#222" stroke-width="0.85"/>
<line x1="56.00" y1="426.77" x2="60.00" y2="426.77" stroke="#222" stroke-width="0.85"/>
<line x1="56.00" y1="425.04" x2="60.00" y2="425.04" stroke="#222" stroke-width="0.85"/>
<line x1="56.00" y1="423.24" x2="60.00" y2="423.24" stroke="#222" stroke-width="0.85"/>
<line x1="56.00" y1="421.35" x2="60.00" y2="421.35" stroke="#222" stroke-width="0.85"/>
<line x1="56.00" y1="419.36" x2="60.00" y2="419.36" stroke="#222" stroke-width="0.85"/>
<line x1="56.00" y1="417.24" x2="60.00" y2="417.24" stroke="#222" stroke-width="0.85"/>
<line x1="56.00" y1="414.98" x2="60.00" y2="414.98" stroke="#222" stroke-width="0.85"/>
<line x1="56.00" y1="412.55" x2="60.00" y2="412.55" stroke="#222" stroke-width="0.85"/>
<line x1="56.00" y1="409.91" x2="60.00" y2="409.91" stroke="#222" stroke-width="0.85"/>
<line x1="56.00" y1="407.00" x2="60.00" y2="407.00" stroke="#222" stroke-width="0.85"/>
<line x1="56.00" y1="403.76" x2="60.00" y2="403.76" stroke="#222" stroke-width="0.85"/>
<line x1="56.00" y1="400.06" x2="60.00" y2="400.06" stroke="#222" stroke-width="0.85"/>
<line x1="56.00" y1="395.72" x2="60.00" y2="395.72" stroke="#222" stroke-width="0.85"/>
<line x1="56.00" y1="390.37" x2="60.00" y2="390.37" stroke="#222" stroke-width="0.85"/>
<line x1="56.00" y1="383.27" x2="60.00" y2="383.27" stroke="#222" stroke-width="0.85"/>
<line x1="56.00" y1="372.08" x2="60.00" y2="372.08" stroke="#222" stroke-width="0.85"/>
<line x1="52.20" y1="372.08" x2="60.00" y2="372.08" stroke="#333333" stroke-width="1.1"/>
<text x="49.50" y="374.28" font-family="Liberation Sans" font-size="7" font-weight="normal" fill="#1a1a1a" text-anchor="end" stroke="#1a1a1a" stroke-width="0.3" textLength="9.2" lengthAdjust="spacingAndGlyphs">99</text>
<line x1="52.20" y1="400.06" x2="60.00" y2="400.06" stroke="#333333" stroke-width="1.1"/>
<text x="49.50" y="402.26" font-family="Liberation Sans" font-size="7" font-weight="normal" fill="#1a1a1a" text-anchor="end" stroke="#1a1a1a" stroke-width="0.3" textLength="9.2" lengthAdjust="spacingAndGlyphs">95</text>
<line x1="52.20" y1="414.98" x2="60.00" y2="414.98" stroke="#333333" stroke-width="1.1"/>
<text x="49.50" y="417.18" font-family="Liberation Sans" font-size="7" font-weight="normal" fill="#1a1a1a" text-anchor="end" stroke="#1a1a1a" stroke-width="0.3" textLength="9.2" lengthAdjust="spacingAndGlyphs">90</text>
<line x1="52.20" y1="433.04" x2="60.00" y2="433.04" stroke="#333333" stroke-width="1.1"/>
<text x="49.50" y="435.24" font-family="Liberation Sans" font-size="7" font-weight="normal" fill="#1a1a1a" text-anchor="end" stroke="#1a1a1a" stroke-width="0.3" textLength="9.2" lengthAdjust="spacingAndGlyphs">80</text>
<line x1="52.20" y1="446.07" x2="60.00" y2="446.07" stroke="#333333" stroke-width="1.1"/>
<text x="49.50" y="448.27" font-family="Liberation Sans" font-size="7" font-weight="normal" fill="#1a1a1a" text-anchor="end" stroke="#1a1a1a" stroke-width="0.3" textLength="9.2" lengthAdjust="spacingAndGlyphs">70</text>
<line x1="52.20" y1="467.60" x2="60.00" y2="467.60" stroke="#333333" stroke-width="1.1"/>
<text x="49.50" y="469.80" font-family="Liberation Sans" font-size="7" font-weight="normal" fill="#1a1a1a" text-anchor="end" stroke="#1a1a1a" stroke-width="0.3" textLength="9.2" lengthAdjust="spacingAndGlyphs">50</text>
<line x1="52.20" y1="489.13" x2="60.00" y2="489.13" stroke="#333333" stroke-width="1.1"/>
<text x="49.50" y="491.33" font-family="Liberation Sans" font-size="7" font-weight="normal" fill="#1a1a1a" text-anchor="end" stroke="#1a1a1a" stroke-width="0.3" textLength="9.2" lengthAdjust="spacingAndGlyphs">30</text>
<line x1="52.20" y1="502.16" x2="60.00" y2="502.16" stroke="#333333" stroke-width="1.1"/>
<text x="49.50" y="504.36" font-family="Liberation Sans" font-size="7" font-weight="normal" fill="#1a1a1a" text-anchor="end" stroke="#1a1a1a" stroke-width="0.3" textLength="9.2" lengthAdjust="spacingAndGlyphs">20</text>
<line x1="52.20" y1="520.22" x2="60.00" y2="520.22" stroke="#333333" stroke-width="1.1"/>
<text x="49.50" y="522.42" font-family="Liberation Sans" font-size="7" font-weight="normal" fill="#1a1a1a" text-anchor="end" stroke="#1a1a1a" stroke-width="0.3" textLength="9.2" lengthAdjust="spacingAndGlyphs">10</text>
<line x1="52.20" y1="535.14" x2="60.00" y2="535.14" stroke="#333333" stroke-width="1.1"/>
<text x="49.50" y="537.34" font-family="Liberation Sans" font-size="7" font-weight="normal" fill="#1a1a1a" text-anchor="end" stroke="#1a1a1a" stroke-width="0.3" textLength="4.6" lengthAdjust="spacingAndGlyphs">5</text>
<line x1="52.20" y1="563.12" x2="60.00" y2="563.12" stroke="#333333" stroke-width="1.1"/>
<text x="49.50" y="565.32" font-family="Liberation Sans" font-size="7" font-weight="normal" fill="#1a1a1a" text-anchor="end" stroke="#1a1a1a" stroke-width="0.3" textLength="4.6" lengthAdjust="spacingAndGlyphs">1</text>
<line x1="76.00" y1="598.20" x2="76.00" y2="605.20" stroke="#333333" stroke-width="1.1"/>
<text x="76.00" y="613.00" font-family="Liberation Sans" font-size="7" font-weight="normal" fill="#1a1a1a" text-anchor="middle" stroke="#1a1a1a" stroke-width="0.3" textLength="17.6" lengthAdjust="spacingAndGlyphs">-2.00</text>
<line x1="133.40" y1="598.20" x2="133.40" y2="605.20" stroke="#333333" stroke-width="1.1"/>
<text x="133.40" y="613.00" font-family="Liberation Sans" font-size="7" font-weight="normal" fill="#1a1a1a" text-anchor="middle" stroke="#1a1a1a" stroke-width="0.3" textLength="17.6" lengthAdjust="spacingAndGlyphs">-1.00</text>
<line x1="190.80" y1="598.20" x2="190.80" y2="605.20" stroke="#333333" stroke-width="1.1"/>
<text x="190.80" y="613.00" font-family="Liberation Sans" font-size="7" font-weight="normal" fill="#1a1a1a" text-anchor="middle" stroke="#1a1a1a" stroke-width="0.3" textLength="15.6" lengthAdjust="spacingAndGlyphs">0.00</text>
<line x1="248.20" y1="598.20" x2="248.20" y2="605.20" stroke="#333333" stroke-width="1.1"/>
<text x="248.20" y="613.00" font-family="Liberation Sans" font-size="7" font-weight="normal" fill="#1a1a1a" text-anchor="middle" stroke="#1a1a1a" stroke-width="0.3" textLength="15.6" lengthAdjust="spacingAndGlyphs">1.00</text>
<line x1="305.60" y1="598.20" x2="305.60" y2="605.20" stroke="#333333" stroke-width="1.1"/>
<text x="305.60" y="613.00" font-family="Liberation Sans" font-size="7" font-weight="normal" fill="#1a1a1a" text-anchor="middle" stroke="#1a1a1a" stroke-width="0.3" textLength="15.6" lengthAdjust="spacingAndGlyphs">2.00</text>
<line x1="363.00" y1="598.20" x2="363.00" y2="605.20" stroke="#333333" stroke-width="1.1"/>
<text x="363.00" y="613.00" font-family="Liberation Sans" font-size="7" font-weight="normal" fill="#1a1a1a" text-anchor="middle" stroke="#1a1a1a" stroke-width="0.3" textLength="15.6" lengthAdjust="spacingAndGlyphs">3.00</text>
<line x1="60.00" y1="550.80" x2="378.80" y2="353.30" stroke="#8c2c2c" stroke-width="1.35"/>
<rect x="80.50" y="542.65" width="5.8" height="4.9" fill="#3088d0" stroke="#0d263a" stroke-width="1.25"/>
<rect x="119.60" y="520.45" width="5.8" height="4.9" fill="#3088d0" stroke="#0d263a" stroke-width="1.25"/>
<rect x="127.50" y="507.85" width="5.8" height="4.9" fill="#1414c8" stroke="#050538" stroke-width="1.25"/>
<rect x="133.80" y="498.35" width="5.8" height="4.9" fill="#38d8c0" stroke="#0f3c35" stroke-width="1.25"/>
<rect x="145.80" y="490.85" width="5.8" height="4.9" fill="#30c8a0" stroke="#0d382c" stroke-width="1.25"/>
<rect x="164.30" y="483.95" width="5.8" height="4.9" fill="#d81c24" stroke="#3c070a" stroke-width="1.25"/>
<rect x="168.10" y="470.65" width="5.8" height="4.9" fill="#e8e040" stroke="#403e11" stroke-width="1.25"/>
<rect x="188.30" y="464.95" width="5.8" height="4.9" fill="#e8e040" stroke="#403e11" stroke-width="1.25"/>
<rect x="165.90" y="476.90" width="7" height="5.4" fill="#fff" stroke="#111" stroke-width="1.7"/>
<circle cx="198.10" cy="465.20" r="4.3" fill="#e0a0a0" stroke="#4a2020" stroke-width="1.1"/>
<rect x="193.50" y="458.85" width="5.8" height="4.9" fill="#30a0e8" stroke="#0d2c40" stroke-width="1.25"/>
<rect x="195.40" y="452.55" width="5.8" height="4.9" fill="#90e040" stroke="#283e11" stroke-width="1.25"/>
<rect x="197.00" y="446.25" width="5.8" height="4.9" fill="#b8e040" stroke="#333e11" stroke-width="1.25"/>
<rect x="214.00" y="439.15" width="5.8" height="4.9" fill="#38c038" stroke="#0f350f" stroke-width="1.25"/>
<rect x="255.60" y="431.55" width="5.8" height="4.9" fill="#e88030" stroke="#40230d" stroke-width="1.25"/>
<rect x="289.00" y="409.45" width="5.8" height="4.9" fill="#1414c8" stroke="#050538" stroke-width="1.25"/>
<rect x="288.60" y="422.05" width="5.8" height="4.9" fill="#e8e040" stroke="#403e11" stroke-width="1.25"/>
<rect x="307.90" y="387.45" width="5.8" height="4.9" fill="#b8e040" stroke="#333e11" stroke-width="1.25"/>
<text x="621.00" y="328.70" font-family="Liberation Sans" font-size="11" font-weight="normal" fill="#1a1a1a" text-anchor="middle" stroke="#1a1a1a" stroke-width="0.2" textLength="117.8" lengthAdjust="spacingAndGlyphs">Predicted vs. Actual</text>
<path d="M458.00,333.30 H785.20 V600.70 H458.00 Z" fill="none" stroke="#333333" stroke-width="1.6"/>
<text x="621.20" y="637.40" font-family="Liberation Sans" font-size="10" font-weight="normal" fill="#1a1a1a" text-anchor="middle" stroke="#1a1a1a" stroke-width="0.3" textLength="30" lengthAdjust="spacingAndGlyphs">Actual</text>
<text x="408.80" y="466.20" font-family="Liberation Sans" font-size="10" font-weight="normal" fill="#1a1a1a" text-anchor="middle" stroke="#1a1a1a" stroke-width="0.3" textLength="39.5" lengthAdjust="spacingAndGlyphs" transform="rotate(-90 408.80 466.20)">Predicted</text>
<text x="472.80" y="358.50" font-family="Liberation Serif" font-size="22" font-weight="normal" fill="#111" text-anchor="start" textLength="27.8" lengthAdjust="spacingAndGlyphs">(d)</text>
<text x="547.20" y="355.00" font-family="Liberation Serif" font-size="16" font-weight="bold" fill="#111" text-anchor="start" textLength="148" lengthAdjust="spacingAndGlyphs">Hydrodynamic size</text>
<line x1="450.00" y1="587.30" x2="458.00" y2="587.30" stroke="#333333" stroke-width="1.2"/>
<text x="446.70" y="589.50" font-family="Liberation Sans" font-size="7" font-weight="normal" fill="#1a1a1a" text-anchor="end" stroke="#1a1a1a" stroke-width="0.3" textLength="9.2" lengthAdjust="spacingAndGlyphs">80</text>
<line x1="450.00" y1="557.22" x2="458.00" y2="557.22" stroke="#333333" stroke-width="1.2"/>
<text x="446.70" y="559.42" font-family="Liberation Sans" font-size="7" font-weight="normal" fill="#1a1a1a" text-anchor="end" stroke="#1a1a1a" stroke-width="0.3" textLength="13.2" lengthAdjust="spacingAndGlyphs">100</text>
<line x1="450.00" y1="527.14" x2="458.00" y2="527.14" stroke="#333333" stroke-width="1.2"/>
<text x="446.70" y="529.34" font-family="Liberation Sans" font-size="7" font-weight="normal" fill="#1a1a1a" text-anchor="end" stroke="#1a1a1a" stroke-width="0.3" textLength="13.2" lengthAdjust="spacingAndGlyphs">120</text>
<line x1="450.00" y1="497.06" x2="458.00" y2="497.06" stroke="#333333" stroke-width="1.2"/>
<text x="446.70" y="499.26" font-family="Liberation Sans" font-size="7" font-weight="normal" fill="#1a1a1a" text-anchor="end" stroke="#1a1a1a" stroke-width="0.3" textLength="13.2" lengthAdjust="spacingAndGlyphs">140</text>
<line x1="450.00" y1="466.98" x2="458.00" y2="466.98" stroke="#333333" stroke-width="1.2"/>
<text x="446.70" y="469.18" font-family="Liberation Sans" font-size="7" font-weight="normal" fill="#1a1a1a" text-anchor="end" stroke="#1a1a1a" stroke-width="0.3" textLength="13.2" lengthAdjust="spacingAndGlyphs">160</text>
<line x1="450.00" y1="436.90" x2="458.00" y2="436.90" stroke="#333333" stroke-width="1.2"/>
<text x="446.70" y="439.10" font-family="Liberation Sans" font-size="7" font-weight="normal" fill="#1a1a1a" text-anchor="end" stroke="#1a1a1a" stroke-width="0.3" textLength="13.2" lengthAdjust="spacingAndGlyphs">180</text>
<line x1="450.00" y1="406.82" x2="458.00" y2="406.82" stroke="#333333" stroke-width="1.2"/>
<text x="446.70" y="409.02" font-family="Liberation Sans" font-size="7" font-weight="normal" fill="#1a1a1a" text-anchor="end" stroke="#1a1a1a" stroke-width="0.3" textLength="13.2" lengthAdjust="spacingAndGlyphs">200</text>
<line x1="450.00" y1="376.74" x2="458.00" y2="376.74" stroke="#333333" stroke-width="1.2"/>
<text x="446.70" y="378.94" font-family="Liberation Sans" font-size="7" font-weight="normal" fill="#1a1a1a" text-anchor="end" stroke="#1a1a1a" stroke-width="0.3" textLength="13.2" lengthAdjust="spacingAndGlyphs">220</text>
<line x1="450.00" y1="346.66" x2="458.00" y2="346.66" stroke="#333333" stroke-width="1.2"/>
<text x="446.70" y="348.86" font-family="Liberation Sans" font-size="7" font-weight="normal" fill="#1a1a1a" text-anchor="end" stroke="#1a1a1a" stroke-width="0.3" textLength="13.2" lengthAdjust="spacingAndGlyphs">240</text>
<line x1="473.90" y1="600.70" x2="473.90" y2="607.70" stroke="#333333" stroke-width="1.1"/>
<text x="473.90" y="616.50" font-family="Liberation Sans" font-size="7" font-weight="normal" fill="#1a1a1a" text-anchor="middle" stroke="#1a1a1a" stroke-width="0.3" textLength="9.2" lengthAdjust="spacingAndGlyphs">80</text>
<line x1="510.78" y1="600.70" x2="510.78" y2="607.70" stroke="#333333" stroke-width="1.1"/>
<text x="510.78" y="616.50" font-family="Liberation Sans" font-size="7" font-weight="normal" fill="#1a1a1a" text-anchor="middle" stroke="#1a1a1a" stroke-width="0.3" textLength="13.2" lengthAdjust="spacingAndGlyphs">100</text>
<line x1="547.66" y1="600.70" x2="547.66" y2="607.70" stroke="#333333" stroke-width="1.1"/>
<text x="547.66" y="616.50" font-family="Liberation Sans" font-size="7" font-weight="normal" fill="#1a1a1a" text-anchor="middle" stroke="#1a1a1a" stroke-width="0.3" textLength="13.2" lengthAdjust="spacingAndGlyphs">120</text>
<line x1="584.54" y1="600.70" x2="584.54" y2="607.70" stroke="#333333" stroke-width="1.1"/>
<text x="584.54" y="616.50" font-family="Liberation Sans" font-size="7" font-weight="normal" fill="#1a1a1a" text-anchor="middle" stroke="#1a1a1a" stroke-width="0.3" textLength="13.2" lengthAdjust="spacingAndGlyphs">140</text>
<line x1="621.42" y1="600.70" x2="621.42" y2="607.70" stroke="#333333" stroke-width="1.1"/>
<text x="621.42" y="616.50" font-family="Liberation Sans" font-size="7" font-weight="normal" fill="#1a1a1a" text-anchor="middle" stroke="#1a1a1a" stroke-width="0.3" textLength="13.2" lengthAdjust="spacingAndGlyphs">160</text>
<line x1="658.30" y1="600.70" x2="658.30" y2="607.70" stroke="#333333" stroke-width="1.1"/>
<text x="658.30" y="616.50" font-family="Liberation Sans" font-size="7" font-weight="normal" fill="#1a1a1a" text-anchor="middle" stroke="#1a1a1a" stroke-width="0.3" textLength="13.2" lengthAdjust="spacingAndGlyphs">180</text>
<line x1="695.18" y1="600.70" x2="695.18" y2="607.70" stroke="#333333" stroke-width="1.1"/>
<text x="695.18" y="616.50" font-family="Liberation Sans" font-size="7" font-weight="normal" fill="#1a1a1a" text-anchor="middle" stroke="#1a1a1a" stroke-width="0.3" textLength="13.2" lengthAdjust="spacingAndGlyphs">200</text>
<line x1="732.06" y1="600.70" x2="732.06" y2="607.70" stroke="#333333" stroke-width="1.1"/>
<text x="732.06" y="616.50" font-family="Liberation Sans" font-size="7" font-weight="normal" fill="#1a1a1a" text-anchor="middle" stroke="#1a1a1a" stroke-width="0.3" textLength="13.2" lengthAdjust="spacingAndGlyphs">220</text>
<line x1="768.94" y1="600.70" x2="768.94" y2="607.70" stroke="#333333" stroke-width="1.1"/>
<text x="768.94" y="616.50" font-family="Liberation Sans" font-size="7" font-weight="normal" fill="#1a1a1a" text-anchor="middle" stroke="#1a1a1a" stroke-width="0.3" textLength="13.2" lengthAdjust="spacingAndGlyphs">240</text>
<line x1="474.00" y1="587.30" x2="769.00" y2="346.70" stroke="#2a2a2a" stroke-width="1.25"/>
<rect x="508.30" y="535.65" width="5.8" height="4.9" fill="#1414c8" stroke="#050538" stroke-width="1.25"/>
<rect x="517.40" y="577.55" width="5.8" height="4.9" fill="#1414c8" stroke="#050538" stroke-width="1.25"/>
<rect x="535.70" y="496.15" width="5.8" height="4.9" fill="#3088d0" stroke="#0d263a" stroke-width="1.25"/>
<rect x="541.20" y="503.25" width="5.8" height="4.9" fill="#3088d0" stroke="#0d263a" stroke-width="1.25"/>
<rect x="543.20" y="528.75" width="5.8" height="4.9" fill="#30a0e8" stroke="#0d2c40" stroke-width="1.25"/>
<rect x="579.40" y="475.45" width="5.8" height="4.9" fill="#38d8c0" stroke="#0f3c35" stroke-width="1.25"/>
<rect x="585.70" y="475.45" width="5.8" height="4.9" fill="#38d8c0" stroke="#0f3c35" stroke-width="1.25"/>
<rect x="618.50" y="475.45" width="5.8" height="4.9" fill="#38c038" stroke="#0f350f" stroke-width="1.25"/>
<rect x="642.30" y="479.55" width="5.8" height="4.9" fill="#90e040" stroke="#283e11" stroke-width="1.25"/>
<rect x="647.90" y="470.95" width="5.8" height="4.9" fill="#90e040" stroke="#283e11" stroke-width="1.25"/>
<rect x="635.40" y="454.05" width="5.8" height="4.9" fill="#90e040" stroke="#283e11" stroke-width="1.25"/>
<rect x="644.50" y="447.25" width="5.8" height="4.9" fill="#90e040" stroke="#283e11" stroke-width="1.25"/>
<rect x="662.70" y="428.65" width="5.8" height="4.9" fill="#e8e040" stroke="#403e11" stroke-width="1.25"/>
<rect x="671.80" y="414.55" width="5.8" height="4.9" fill="#e8e040" stroke="#403e11" stroke-width="1.25"/>
<rect x="701.60" y="421.55" width="5.8" height="4.9" fill="#e88030" stroke="#40230d" stroke-width="1.25"/>
<rect x="721.70" y="372.65" width="5.8" height="4.9" fill="#d81c24" stroke="#3c070a" stroke-width="1.25"/>
<rect x="539.60" y="521.50" width="7" height="5.4" fill="#fff" stroke="#111" stroke-width="1.7"/>
<text x="219.50" y="660.10" font-family="Liberation Sans" font-size="11" font-weight="normal" fill="#1a1a1a" text-anchor="middle" stroke="#1a1a1a" stroke-width="0.2" textLength="145.9" lengthAdjust="spacingAndGlyphs">Normal Plot of Residuals</text>
<path d="M59.30,664.50 H380.00 V926.40 H59.30 Z" fill="none" stroke="#333333" stroke-width="1.6"/>
<text x="218.90" y="961.60" font-family="Liberation Sans" font-size="9" font-weight="normal" fill="#1a1a1a" text-anchor="middle" stroke="#1a1a1a" stroke-width="0.3" textLength="152.5" lengthAdjust="spacingAndGlyphs">Externally Studentized Residuals</text>
<text x="11.50" y="794.60" font-family="Liberation Sans" font-size="9" font-weight="normal" fill="#1a1a1a" text-anchor="middle" stroke="#1a1a1a" stroke-width="0.3" textLength="84.5" lengthAdjust="spacingAndGlyphs" transform="rotate(-90 11.50 794.60)">Normal % Probability</text>
<text x="69.60" y="693.00" font-family="Liberation Serif" font-size="22" font-weight="normal" fill="#111" text-anchor="start" textLength="27" lengthAdjust="spacingAndGlyphs">(e)</text>
<text x="198.20" y="692.60" font-family="Liberation Serif" font-size="16" font-weight="bold" fill="#111" text-anchor="start" textLength="28" lengthAdjust="spacingAndGlyphs">PdI</text>
<line x1="55.30" y1="891.43" x2="59.30" y2="891.43" stroke="#222" stroke-width="0.85"/>
<line x1="55.30" y1="880.17" x2="59.30" y2="880.17" stroke="#222" stroke-width="0.85"/>
<line x1="55.30" y1="873.03" x2="59.30" y2="873.03" stroke="#222" stroke-width="0.85"/>
<line x1="55.30" y1="867.65" x2="59.30" y2="867.65" stroke="#222" stroke-width="0.85"/>
<line x1="55.30" y1="863.28" x2="59.30" y2="863.28" stroke="#222" stroke-width="0.85"/>
<line x1="55.30" y1="859.56" x2="59.30" y2="859.56" stroke="#222" stroke-width="0.85"/>
<line x1="55.30" y1="856.30" x2="59.30" y2="856.30" stroke="#222" stroke-width="0.85"/>
<line x1="55.30" y1="853.38" x2="59.30" y2="853.38" stroke="#222" stroke-width="0.85"/>
<line x1="55.30" y1="850.72" x2="59.30" y2="850.72" stroke="#222" stroke-width="0.85"/>
<line x1="55.30" y1="848.28" x2="59.30" y2="848.28" stroke="#222" stroke-width="0.85"/>
<line x1="55.30" y1="846.01" x2="59.30" y2="846.01" stroke="#222" stroke-width="0.85"/>
<line x1="55.30" y1="843.88" x2="59.30" y2="843.88" stroke="#222" stroke-width="0.85"/>
<line x1="55.30" y1="841.87" x2="59.30" y2="841.87" stroke="#222" stroke-width="0.85"/>
<line x1="55.30" y1="839.97" x2="59.30" y2="839.97" stroke="#222" stroke-width="0.85"/>
<line x1="55.30" y1="838.15" x2="59.30" y2="838.15" stroke="#222" stroke-width="0.85"/>
<line x1="55.30" y1="836.42" x2="59.30" y2="836.42" stroke="#222" stroke-width="0.85"/>
<line x1="55.30" y1="834.76" x2="59.30" y2="834.76" stroke="#222" stroke-width="0.85"/>
<line x1="55.30" y1="833.15" x2="59.30" y2="833.15" stroke="#222" stroke-width="0.85"/>
<line x1="55.30" y1="831.61" x2="59.30" y2="831.61" stroke="#222" stroke-width="0.85"/>
<line x1="55.30" y1="830.11" x2="59.30" y2="830.11" stroke="#222" stroke-width="0.85"/>
<line x1="55.30" y1="828.66" x2="59.30" y2="828.66" stroke="#222" stroke-width="0.85"/>
<line x1="55.30" y1="827.24" x2="59.30" y2="827.24" stroke="#222" stroke-width="0.85"/>
<line x1="55.30" y1="825.86" x2="59.30" y2="825.86" stroke="#222" stroke-width="0.85"/>
<line x1="55.30" y1="824.52" x2="59.30" y2="824.52" stroke="#222" stroke-width="0.85"/>
<line x1="55.30" y1="823.21" x2="59.30" y2="823.21" stroke="#222" stroke-width="0.85"/>
<line x1="55.30" y1="821.92" x2="59.30" y2="821.92" stroke="#222" stroke-width="0.85"/>
<line x1="55.30" y1="820.66" x2="59.30" y2="820.66" stroke="#222" stroke-width="0.85"/>
<line x1="55.30" y1="819.42" x2="59.30" y2="819.42" stroke="#222" stroke-width="0.85"/>
<line x1="55.30" y1="818.20" x2="59.30" y2="818.20" stroke="#222" stroke-width="0.85"/>
<line x1="55.30" y1="817.01" x2="59.30" y2="817.01" stroke="#222" stroke-width="0.85"/>
<line x1="55.30" y1="815.83" x2="59.30" y2="815.83" stroke="#222" stroke-width="0.85"/>
<line x1="55.30" y1="814.67" x2="59.30" y2="814.67" stroke="#222" stroke-width="0.85"/>
<line x1="55.30" y1="813.52" x2="59.30" y2="813.52" stroke="#222" stroke-width="0.85"/>
<line x1="55.30" y1="812.38" x2="59.30" y2="812.38" stroke="#222" stroke-width="0.85"/>
<line x1="55.30" y1="811.26" x2="59.30" y2="811.26" stroke="#222" stroke-width="0.85"/>
<line x1="55.30" y1="810.15" x2="59.30" y2="810.15" stroke="#222" stroke-width="0.85"/>
<line x1="55.30" y1="809.06" x2="59.30" y2="809.06" stroke="#222" stroke-width="0.85"/>
<line x1="55.30" y1="807.97" x2="59.30" y2="807.97" stroke="#222" stroke-width="0.85"/>
<line x1="55.30" y1="806.89" x2="59.30" y2="806.89" stroke="#222" stroke-width="0.85"/>
<line x1="55.30" y1="805.81" x2="59.30" y2="805.81" stroke="#222" stroke-width="0.85"/>
<line x1="55.30" y1="804.75" x2="59.30" y2="804.75" stroke="#222" stroke-width="0.85"/>
<line x1="55.30" y1="803.69" x2="59.30" y2="803.69" stroke="#222" stroke-width="0.85"/>
<line x1="55.30" y1="802.63" x2="59.30" y2="802.63" stroke="#222" stroke-width="0.85"/>
<line x1="55.30" y1="801.59" x2="59.30" y2="801.59" stroke="#222" stroke-width="0.85"/>
<line x1="55.30" y1="800.54" x2="59.30" y2="800.54" stroke="#222" stroke-width="0.85"/>
<line x1="55.30" y1="799.50" x2="59.30" y2="799.50" stroke="#222" stroke-width="0.85"/>
<line x1="55.30" y1="798.46" x2="59.30" y2="798.46" stroke="#222" stroke-width="0.85"/>
<line x1="55.30" y1="797.42" x2="59.30" y2="797.42" stroke="#222" stroke-width="0.85"/>
<line x1="55.30" y1="796.39" x2="59.30" y2="796.39" stroke="#222" stroke-width="0.85"/>
<line x1="55.30" y1="795.35" x2="59.30" y2="795.35" stroke="#222" stroke-width="0.85"/>
<line x1="55.30" y1="794.31" x2="59.30" y2="794.31" stroke="#222" stroke-width="0.85"/>
<line x1="55.30" y1="793.28" x2="59.30" y2="793.28" stroke="#222" stroke-width="0.85"/>
<line x1="55.30" y1="792.24" x2="59.30" y2="792.24" stroke="#222" stroke-width="0.85"/>
<line x1="55.30" y1="791.20" x2="59.30" y2="791.20" stroke="#222" stroke-width="0.85"/>
<line x1="55.30" y1="790.16" x2="59.30" y2="790.16" stroke="#222" stroke-width="0.85"/>
<line x1="55.30" y1="789.11" x2="59.30" y2="789.11" stroke="#222" stroke-width="0.85"/>
<line x1="55.30" y1="788.07" x2="59.30" y2="788.07" stroke="#222" stroke-width="0.85"/>
<line x1="55.30" y1="787.01" x2="59.30" y2="787.01" stroke="#222" stroke-width="0.85"/>
<line x1="55.30" y1="785.95" x2="59.30" y2="785.95" stroke="#222" stroke-width="0.85"/>
<line x1="55.30" y1="784.89" x2="59.30" y2="784.89" stroke="#222" stroke-width="0.85"/>
<line x1="55.30" y1="783.81" x2="59.30" y2="783.81" stroke="#222" stroke-width="0.85"/>
<line x1="55.30" y1="782.73" x2="59.30" y2="782.73" stroke="#222" stroke-width="0.85"/>
<line x1="55.30" y1="781.64" x2="59.30" y2="781.64" stroke="#222" stroke-width="0.85"/>
<line x1="55.30" y1="780.55" x2="59.30" y2="780.55" stroke="#222" stroke-width="0.85"/>
<line x1="55.30" y1="779.44" x2="59.30" y2="779.44" stroke="#222" stroke-width="0.85"/>
<line x1="55.30" y1="778.32" x2="59.30" y2="778.32" stroke="#222" stroke-width="0.85"/>
<line x1="55.30" y1="777.18" x2="59.30" y2="777.18" stroke="#222" stroke-width="0.85"/>
<line x1="55.30" y1="776.03" x2="59.30" y2="776.03" stroke="#222" stroke-width="0.85"/>
<line x1="55.30" y1="774.87" x2="59.30" y2="774.87" stroke="#222" stroke-width="0.85"/>
<line x1="55.30" y1="773.69" x2="59.30" y2="773.69" stroke="#222" stroke-width="0.85"/>
<line x1="55.30" y1="772.50" x2="59.30" y2="772.50" stroke="#222" stroke-width="0.85"/>
<line x1="55.30" y1="771.28" x2="59.30" y2="771.28" stroke="#222" stroke-width="0.85"/>
<line x1="55.30" y1="770.04" x2="59.30" y2="770.04" stroke="#222" stroke-width="0.85"/>
<line x1="55.30" y1="768.78" x2="59.30" y2="768.78" stroke="#222" stroke-width="0.85"/>
<line x1="55.30" y1="767.49" x2="59.30" y2="767.49" stroke="#222" stroke-width="0.85"/>
<line x1="55.30" y1="766.18" x2="59.30" y2="766.18" stroke="#222" stroke-width="0.85"/>
<line x1="55.30" y1="764.84" x2="59.30" y2="764.84" stroke="#222" stroke-width="0.85"/>
<line x1="55.30" y1="763.46" x2="59.30" y2="763.46" stroke="#222" stroke-width="0.85"/>
<line x1="55.30" y1="762.04" x2="59.30" y2="762.04" stroke="#222" stroke-width="0.85"/>
<line x1="55.30" y1="760.59" x2="59.30" y2="760.59" stroke="#222" stroke-width="0.85"/>
<line x1="55.30" y1="759.09" x2="59.30" y2="759.09" stroke="#222" stroke-width="0.85"/>
<line x1="55.30" y1="757.55" x2="59.30" y2="757.55" stroke="#222" stroke-width="0.85"/>
<line x1="55.30" y1="755.94" x2="59.30" y2="755.94" stroke="#222" stroke-width="0.85"/>
<line x1="55.30" y1="754.28" x2="59.30" y2="754.28" stroke="#222" stroke-width="0.85"/>
<line x1="55.30" y1="752.55" x2="59.30" y2="752.55" stroke="#222" stroke-width="0.85"/>
<line x1="55.30" y1="750.73" x2="59.30" y2="750.73" stroke="#222" stroke-width="0.85"/>
<line x1="55.30" y1="748.83" x2="59.30" y2="748.83" stroke="#222" stroke-width="0.85"/>
<line x1="55.30" y1="746.82" x2="59.30" y2="746.82" stroke="#222" stroke-width="0.85"/>
<line x1="55.30" y1="744.69" x2="59.30" y2="744.69" stroke="#222" stroke-width="0.85"/>
<line x1="55.30" y1="742.42" x2="59.30" y2="742.42" stroke="#222" stroke-width="0.85"/>
<line x1="55.30" y1="739.98" x2="59.30" y2="739.98" stroke="#222" stroke-width="0.85"/>
<line x1="55.30" y1="737.32" x2="59.30" y2="737.32" stroke="#222" stroke-width="0.85"/>
<line x1="55.30" y1="734.40" x2="59.30" y2="734.40" stroke="#222" stroke-width="0.85"/>
<line x1="55.30" y1="731.14" x2="59.30" y2="731.14" stroke="#222" stroke-width="0.85"/>
<line x1="55.30" y1="727.42" x2="59.30" y2="727.42" stroke="#222" stroke-width="0.85"/>
<line x1="55.30" y1="723.05" x2="59.30" y2="723.05" stroke="#222" stroke-width="0.85"/>
<line x1="55.30" y1="717.67" x2="59.30" y2="717.67" stroke="#222" stroke-width="0.85"/>
<line x1="55.30" y1="710.53" x2="59.30" y2="710.53" stroke="#222" stroke-width="0.85"/>
<line x1="55.30" y1="699.27" x2="59.30" y2="699.27" stroke="#222" stroke-width="0.85"/>
<line x1="51.50" y1="699.27" x2="59.30" y2="699.27" stroke="#333333" stroke-width="1.1"/>
<text x="48.80" y="701.47" font-family="Liberation Sans" font-size="7" font-weight="normal" fill="#1a1a1a" text-anchor="end" stroke="#1a1a1a" stroke-width="0.3" textLength="9.2" lengthAdjust="spacingAndGlyphs">99</text>
<line x1="51.50" y1="727.42" x2="59.30" y2="727.42" stroke="#333333" stroke-width="1.1"/>
<text x="48.80" y="729.62" font-family="Liberation Sans" font-size="7" font-weight="normal" fill="#1a1a1a" text-anchor="end" stroke="#1a1a1a" stroke-width="0.3" textLength="9.2" lengthAdjust="spacingAndGlyphs">95</text>
<line x1="51.50" y1="742.42" x2="59.30" y2="742.42" stroke="#333333" stroke-width="1.1"/>
<text x="48.80" y="744.62" font-family="Liberation Sans" font-size="7" font-weight="normal" fill="#1a1a1a" text-anchor="end" stroke="#1a1a1a" stroke-width="0.3" textLength="9.2" lengthAdjust="spacingAndGlyphs">90</text>
<line x1="51.50" y1="760.59" x2="59.30" y2="760.59" stroke="#333333" stroke-width="1.1"/>
<text x="48.80" y="762.79" font-family="Liberation Sans" font-size="7" font-weight="normal" fill="#1a1a1a" text-anchor="end" stroke="#1a1a1a" stroke-width="0.3" textLength="9.2" lengthAdjust="spacingAndGlyphs">80</text>
<line x1="51.50" y1="773.69" x2="59.30" y2="773.69" stroke="#333333" stroke-width="1.1"/>
<text x="48.80" y="775.89" font-family="Liberation Sans" font-size="7" font-weight="normal" fill="#1a1a1a" text-anchor="end" stroke="#1a1a1a" stroke-width="0.3" textLength="9.2" lengthAdjust="spacingAndGlyphs">70</text>
<line x1="51.50" y1="795.35" x2="59.30" y2="795.35" stroke="#333333" stroke-width="1.1"/>
<text x="48.80" y="797.55" font-family="Liberation Sans" font-size="7" font-weight="normal" fill="#1a1a1a" text-anchor="end" stroke="#1a1a1a" stroke-width="0.3" textLength="9.2" lengthAdjust="spacingAndGlyphs">50</text>
<line x1="51.50" y1="817.01" x2="59.30" y2="817.01" stroke="#333333" stroke-width="1.1"/>
<text x="48.80" y="819.21" font-family="Liberation Sans" font-size="7" font-weight="normal" fill="#1a1a1a" text-anchor="end" stroke="#1a1a1a" stroke-width="0.3" textLength="9.2" lengthAdjust="spacingAndGlyphs">30</text>
<line x1="51.50" y1="830.11" x2="59.30" y2="830.11" stroke="#333333" stroke-width="1.1"/>
<text x="48.80" y="832.31" font-family="Liberation Sans" font-size="7" font-weight="normal" fill="#1a1a1a" text-anchor="end" stroke="#1a1a1a" stroke-width="0.3" textLength="9.2" lengthAdjust="spacingAndGlyphs">20</text>
<line x1="51.50" y1="848.28" x2="59.30" y2="848.28" stroke="#333333" stroke-width="1.1"/>
<text x="48.80" y="850.48" font-family="Liberation Sans" font-size="7" font-weight="normal" fill="#1a1a1a" text-anchor="end" stroke="#1a1a1a" stroke-width="0.3" textLength="9.2" lengthAdjust="spacingAndGlyphs">10</text>
<line x1="51.50" y1="863.28" x2="59.30" y2="863.28" stroke="#333333" stroke-width="1.1"/>
<text x="48.80" y="865.48" font-family="Liberation Sans" font-size="7" font-weight="normal" fill="#1a1a1a" text-anchor="end" stroke="#1a1a1a" stroke-width="0.3" textLength="4.6" lengthAdjust="spacingAndGlyphs">5</text>
<line x1="51.50" y1="891.43" x2="59.30" y2="891.43" stroke="#333333" stroke-width="1.1"/>
<text x="48.80" y="893.63" font-family="Liberation Sans" font-size="7" font-weight="normal" fill="#1a1a1a" text-anchor="end" stroke="#1a1a1a" stroke-width="0.3" textLength="4.6" lengthAdjust="spacingAndGlyphs">1</text>
<line x1="75.35" y1="926.40" x2="75.35" y2="933.40" stroke="#333333" stroke-width="1.1"/>
<text x="75.35" y="942.00" font-family="Liberation Sans" font-size="7" font-weight="normal" fill="#1a1a1a" text-anchor="middle" stroke="#1a1a1a" stroke-width="0.3" textLength="17.6" lengthAdjust="spacingAndGlyphs">-2.00</text>
<line x1="147.35" y1="926.40" x2="147.35" y2="933.40" stroke="#333333" stroke-width="1.1"/>
<text x="147.35" y="942.00" font-family="Liberation Sans" font-size="7" font-weight="normal" fill="#1a1a1a" text-anchor="middle" stroke="#1a1a1a" stroke-width="0.3" textLength="17.6" lengthAdjust="spacingAndGlyphs">-1.00</text>
<line x1="219.35" y1="926.40" x2="219.35" y2="933.40" stroke="#333333" stroke-width="1.1"/>
<text x="219.35" y="942.00" font-family="Liberation Sans" font-size="7" font-weight="normal" fill="#1a1a1a" text-anchor="middle" stroke="#1a1a1a" stroke-width="0.3" textLength="15.6" lengthAdjust="spacingAndGlyphs">0.00</text>
<line x1="291.35" y1="926.40" x2="291.35" y2="933.40" stroke="#333333" stroke-width="1.1"/>
<text x="291.35" y="942.00" font-family="Liberation Sans" font-size="7" font-weight="normal" fill="#1a1a1a" text-anchor="middle" stroke="#1a1a1a" stroke-width="0.3" textLength="15.6" lengthAdjust="spacingAndGlyphs">1.00</text>
<line x1="363.35" y1="926.40" x2="363.35" y2="933.40" stroke="#333333" stroke-width="1.1"/>
<text x="363.35" y="942.00" font-family="Liberation Sans" font-size="7" font-weight="normal" fill="#1a1a1a" text-anchor="middle" stroke="#1a1a1a" stroke-width="0.3" textLength="15.6" lengthAdjust="spacingAndGlyphs">2.00</text>
<line x1="59.30" y1="878.90" x2="380.00" y2="712.50" stroke="#8c2c2c" stroke-width="1.35"/>
<rect x="105.00" y="870.65" width="5.8" height="4.9" fill="#38d8c0" stroke="#0f3c35" stroke-width="1.25"/>
<rect x="105.00" y="848.25" width="5.8" height="4.9" fill="#38d8c0" stroke="#0f3c35" stroke-width="1.25"/>
<rect x="122.70" y="835.85" width="5.8" height="4.9" fill="#1414c8" stroke="#050538" stroke-width="1.25"/>
<rect x="135.30" y="826.55" width="5.8" height="4.9" fill="#38d8c0" stroke="#0f3c35" stroke-width="1.25"/>
<rect x="173.70" y="818.65" width="5.8" height="4.9" fill="#30c8a0" stroke="#0d382c" stroke-width="1.25"/>
<rect x="189.80" y="811.75" width="5.8" height="4.9" fill="#e88030" stroke="#40230d" stroke-width="1.25"/>
<rect x="190.80" y="805.15" width="5.8" height="4.9" fill="#3ee0e0" stroke="#113e3e" stroke-width="1.25"/>
<rect x="193.40" y="798.65" width="5.8" height="4.9" fill="#38c038" stroke="#0f350f" stroke-width="1.25"/>
<rect x="209.90" y="792.75" width="5.8" height="4.9" fill="#d81c24" stroke="#3c070a" stroke-width="1.25"/>
<circle cx="220.10" cy="796.50" r="4.3" fill="#e0a0a0" stroke="#4a2020" stroke-width="1.1"/>
<rect x="232.60" y="786.50" width="7" height="5.4" fill="#fff" stroke="#111" stroke-width="1.7"/>
<rect x="247.40" y="780.65" width="5.8" height="4.9" fill="#e8e040" stroke="#403e11" stroke-width="1.25"/>
<rect x="283.80" y="774.25" width="5.8" height="4.9" fill="#e88030" stroke="#40230d" stroke-width="1.25"/>
<rect x="284.90" y="767.05" width="5.8" height="4.9" fill="#1414c8" stroke="#050538" stroke-width="1.25"/>
<rect x="300.00" y="759.35" width="5.8" height="4.9" fill="#e8e040" stroke="#403e11" stroke-width="1.25"/>
<rect x="304.30" y="749.55" width="5.8" height="4.9" fill="#e8e040" stroke="#403e11" stroke-width="1.25"/>
<rect x="314.30" y="737.55" width="5.8" height="4.9" fill="#38c038" stroke="#0f350f" stroke-width="1.25"/>
<rect x="329.30" y="715.25" width="5.8" height="4.9" fill="#38d8c0" stroke="#0f3c35" stroke-width="1.25"/>
<text x="619.00" y="659.40" font-family="Liberation Sans" font-size="11" font-weight="normal" fill="#1a1a1a" text-anchor="middle" stroke="#1a1a1a" stroke-width="0.2" textLength="114.8" lengthAdjust="spacingAndGlyphs">Predicted vs. Actual</text>
<path d="M458.60,663.80 H780.60 V927.30 H458.60 Z" fill="none" stroke="#333333" stroke-width="1.6"/>
<text x="619.20" y="962.80" font-family="Liberation Sans" font-size="10" font-weight="normal" fill="#1a1a1a" text-anchor="middle" stroke="#1a1a1a" stroke-width="0.3" textLength="29.5" lengthAdjust="spacingAndGlyphs">Actual</text>
<text x="409.80" y="794.45" font-family="Liberation Sans" font-size="10" font-weight="normal" fill="#1a1a1a" text-anchor="middle" stroke="#1a1a1a" stroke-width="0.3" textLength="38.5" lengthAdjust="spacingAndGlyphs" transform="rotate(-90 409.80 794.45)">Predicted</text>
<text x="472.80" y="690.00" font-family="Liberation Serif" font-size="22" font-weight="normal" fill="#111" text-anchor="start" textLength="25" lengthAdjust="spacingAndGlyphs">(f)</text>
<text x="607.50" y="688.00" font-family="Liberation Serif" font-size="16" font-weight="bold" fill="#111" text-anchor="start" textLength="28.4" lengthAdjust="spacingAndGlyphs">PdI</text>
<line x1="450.60" y1="914.30" x2="458.60" y2="914.30" stroke="#333333" stroke-width="1.2"/>
<text x="447.30" y="916.50" font-family="Liberation Sans" font-size="7" font-weight="normal" fill="#1a1a1a" text-anchor="end" stroke="#1a1a1a" stroke-width="0.3" textLength="20.2" lengthAdjust="spacingAndGlyphs">0.200</text>
<line x1="450.60" y1="854.92" x2="458.60" y2="854.92" stroke="#333333" stroke-width="1.2"/>
<text x="447.30" y="857.12" font-family="Liberation Sans" font-size="7" font-weight="normal" fill="#1a1a1a" text-anchor="end" stroke="#1a1a1a" stroke-width="0.3" textLength="20.2" lengthAdjust="spacingAndGlyphs">0.250</text>
<line x1="450.60" y1="795.55" x2="458.60" y2="795.55" stroke="#333333" stroke-width="1.2"/>
<text x="447.30" y="797.75" font-family="Liberation Sans" font-size="7" font-weight="normal" fill="#1a1a1a" text-anchor="end" stroke="#1a1a1a" stroke-width="0.3" textLength="20.2" lengthAdjust="spacingAndGlyphs">0.300</text>
<line x1="450.60" y1="736.17" x2="458.60" y2="736.17" stroke="#333333" stroke-width="1.2"/>
<text x="447.30" y="738.38" font-family="Liberation Sans" font-size="7" font-weight="normal" fill="#1a1a1a" text-anchor="end" stroke="#1a1a1a" stroke-width="0.3" textLength="20.2" lengthAdjust="spacingAndGlyphs">0.350</text>
<line x1="450.60" y1="676.80" x2="458.60" y2="676.80" stroke="#333333" stroke-width="1.2"/>
<text x="447.30" y="679.00" font-family="Liberation Sans" font-size="7" font-weight="normal" fill="#1a1a1a" text-anchor="end" stroke="#1a1a1a" stroke-width="0.3" textLength="20.2" lengthAdjust="spacingAndGlyphs">0.400</text>
<line x1="474.30" y1="927.30" x2="474.30" y2="934.30" stroke="#333333" stroke-width="1.1"/>
<text x="474.30" y="942.50" font-family="Liberation Sans" font-size="7" font-weight="normal" fill="#1a1a1a" text-anchor="middle" stroke="#1a1a1a" stroke-width="0.3" textLength="20.2" lengthAdjust="spacingAndGlyphs">0.200</text>
<line x1="546.92" y1="927.30" x2="546.92" y2="934.30" stroke="#333333" stroke-width="1.1"/>
<text x="546.92" y="942.50" font-family="Liberation Sans" font-size="7" font-weight="normal" fill="#1a1a1a" text-anchor="middle" stroke="#1a1a1a" stroke-width="0.3" textLength="20.2" lengthAdjust="spacingAndGlyphs">0.250</text>
<line x1="619.55" y1="927.30" x2="619.55" y2="934.30" stroke="#333333" stroke-width="1.1"/>
<text x="619.55" y="942.50" font-family="Liberation Sans" font-size="7" font-weight="normal" fill="#1a1a1a" text-anchor="middle" stroke="#1a1a1a" stroke-width="0.3" textLength="20.2" lengthAdjust="spacingAndGlyphs">0.300</text>
<line x1="692.17" y1="927.30" x2="692.17" y2="934.30" stroke="#333333" stroke-width="1.1"/>
<text x="692.17" y="942.50" font-family="Liberation Sans" font-size="7" font-weight="normal" fill="#1a1a1a" text-anchor="middle" stroke="#1a1a1a" stroke-width="0.3" textLength="20.2" lengthAdjust="spacingAndGlyphs">0.350</text>
<line x1="764.80" y1="927.30" x2="764.80" y2="934.30" stroke="#333333" stroke-width="1.1"/>
<text x="764.80" y="942.50" font-family="Liberation Sans" font-size="7" font-weight="normal" fill="#1a1a1a" text-anchor="middle" stroke="#1a1a1a" stroke-width="0.3" textLength="20.2" lengthAdjust="spacingAndGlyphs">0.400</text>
<line x1="474.30" y1="914.30" x2="764.80" y2="677.00" stroke="#2a2a2a" stroke-width="1.25"/>
<rect x="490.10" y="878.55" width="5.8" height="4.9" fill="#1414c8" stroke="#050538" stroke-width="1.25"/>
<rect x="501.90" y="899.55" width="5.8" height="4.9" fill="#1414c8" stroke="#050538" stroke-width="1.25"/>
<rect x="561.50" y="861.05" width="5.8" height="4.9" fill="#3ee0e0" stroke="#113e3e" stroke-width="1.25"/>
<rect x="564.20" y="829.35" width="5.8" height="4.9" fill="#38d8c0" stroke="#0f3c35" stroke-width="1.25"/>
<rect x="571.60" y="812.25" width="5.8" height="4.9" fill="#38d8c0" stroke="#0f3c35" stroke-width="1.25"/>
<rect x="575.80" y="801.75" width="5.8" height="4.9" fill="#38d8c0" stroke="#0f3c35" stroke-width="1.25"/>
<rect x="593.40" y="801.75" width="5.8" height="4.9" fill="#30c8a0" stroke="#0d382c" stroke-width="1.25"/>
<rect x="601.90" y="822.75" width="5.8" height="4.9" fill="#38c038" stroke="#0f350f" stroke-width="1.25"/>
<rect x="612.00" y="791.25" width="5.8" height="4.9" fill="#38c038" stroke="#0f350f" stroke-width="1.25"/>
<rect x="648.80" y="774.15" width="5.8" height="4.9" fill="#b8e040" stroke="#333e11" stroke-width="1.25"/>
<rect x="651.00" y="780.85" width="5.8" height="4.9" fill="#b8e040" stroke="#333e11" stroke-width="1.25"/>
<rect x="675.90" y="759.95" width="5.8" height="4.9" fill="#e8e040" stroke="#403e11" stroke-width="1.25"/>
<rect x="693.40" y="724.95" width="5.8" height="4.9" fill="#e88030" stroke="#40230d" stroke-width="1.25"/>
<rect x="696.50" y="742.45" width="5.8" height="4.9" fill="#e88030" stroke="#40230d" stroke-width="1.25"/>
<rect x="723.90" y="703.85" width="5.8" height="4.9" fill="#d81c24" stroke="#3c070a" stroke-width="1.25"/>
<rect x="558.10" y="843.60" width="7" height="5.4" fill="#fff" stroke="#111" stroke-width="1.7"/>
<circle cx="571.1" cy="803.2" r="0.7" fill="#333"/><circle cx="571.1" cy="805.3" r="0.7" fill="#333"/>
</svg>
</body></html>
